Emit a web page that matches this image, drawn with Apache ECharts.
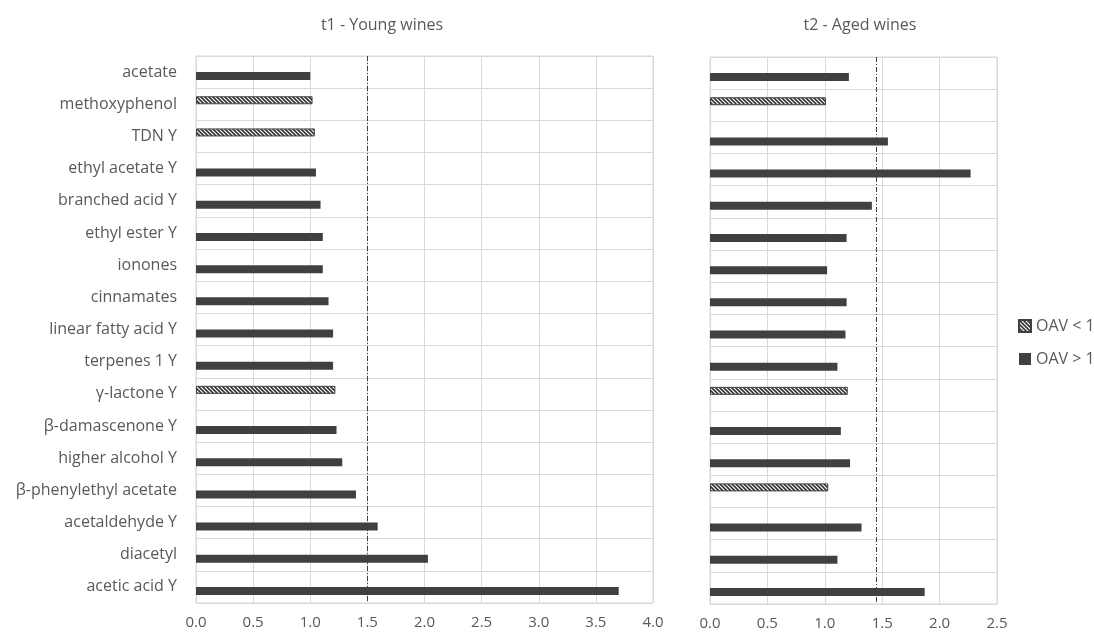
<!DOCTYPE html>
<html>
<head>
<meta charset="utf-8">
<script src="https://cdn.jsdelivr.net/npm/echarts@6/dist/echarts.min.js"></script>
<style>html,body{margin:0;padding:0;background:#fff}#c{width:1094px;height:635px}</style>
</head>
<body>
<div id="c"></div>
<script>
// ---- data ----
const categories = ['acetate','methoxyphenol','TDN Y','ethyl acetate Y','branched acid Y','ethyl ester Y','ionones','cinnamates','linear fatty acid Y','terpenes 1 Y','γ-lactone Y','β-damascenone Y','higher alcohol Y','β-phenylethyl acetate','acetaldehyde Y','diacetyl','acetic acid Y'];
const t1Values = [1.00,1.02,1.04,1.05,1.09,1.11,1.11,1.16,1.20,1.20,1.22,1.23,1.28,1.40,1.59,2.03,3.70];
const t1Low    = [0,1,1,0,0,0,0,0,0,0,1,0,0,0,0,0,0]; // 1 = OAV < 1
const t2Values = [1.21,1.01,1.55,2.27,1.41,1.19,1.02,1.19,1.18,1.11,1.20,1.14,1.22,1.03,1.32,1.11,1.87];
const t2Low    = [0,1,0,0,0,0,0,0,0,0,1,0,0,1,0,0,0];
const t1Ticks = ['0.0','0.5','1.0','1.5','2.0','2.5','3.0','3.5','4.0'];
const t2Ticks = ['0.0','0.5','1.0','1.5','2.0','2.5'];
const t1Threshold = 1.5;
const t2Threshold = 1.45;
const seriesNames = ['OAV < 1','OAV > 1'];
const titles = ['t1 - Young wines','t2 - Aged wines'];

// ---- styles ----
const TXT = '#595959', GRIDC = '#d9d9d9', DARK = '#404040';
const FONT = '"Open Sans", sans-serif';

const pc = document.createElement('canvas');
pc.width = 4; pc.height = 4;
const g = pc.getContext('2d');
g.fillStyle = '#fff'; g.fillRect(0,0,4,4);
g.strokeStyle = '#333'; g.lineWidth = 1.6;
g.beginPath();
g.moveTo(-1,-1); g.lineTo(5,5);
g.moveTo(-1,3); g.lineTo(1,5);
g.moveTo(3,-1); g.lineTo(5,1);
g.stroke();
const hatch = {image: pc, repeat: 'repeat'};

function split(values, low, wantLow) {
  return values.map((v, i) => (low[i] === 1) === wantLow ? v : null);
}

function xAxisFor(gridIndex, ticks) {
  return {
    type: 'value', gridIndex, min: 0, max: parseFloat(ticks[ticks.length-1]), interval: 0.5,
    axisLine: {show: false}, axisTick: {show: false},
    axisLabel: {color: TXT, fontSize: 15, fontFamily: FONT, margin: 12,
      formatter: v => ticks[Math.round(v / 0.5)]},
    splitLine: {show: true, lineStyle: {color: GRIDC, width: 1}}
  };
}
function yAxisFor(gridIndex, showLabels) {
  return {
    type: 'category', gridIndex, data: categories, inverse: true,
    axisLine: {show: false}, axisTick: {show: false},
    axisLabel: {show: showLabels, color: TXT, fontSize: 16, fontFamily: FONT, margin: 19},
    splitLine: {show: true, interval: 0, lineStyle: {color: GRIDC, width: 1}}
  };
}
function barSeries(name, data, idx, low, threshold) {
  const s = {
    name, type: 'bar', xAxisIndex: idx, yAxisIndex: idx, data,
    barWidth: 8, barGap: '0%',
    itemStyle: low ? {color: hatch, borderColor: DARK, borderWidth: 1} : {color: DARK},
    emphasis: {disabled: true}
  };
  if (threshold !== undefined) {
    s.markLine = {
      silent: true, symbol: 'none', label: {show: false},
      lineStyle: {color: DARK, width: 1, type: [5, 2, 1, 2]},
      data: [{xAxis: threshold}]
    };
  }
  return s;
}

const chart = echarts.init(document.getElementById('c'));
chart.setOption({
  animation: false,
  textStyle: {fontFamily: FONT},
  title: [
    {text: titles[0], left: 377, top: 12, textAlign: 'center', textStyle: {color: TXT, fontSize: 16, fontWeight: 'normal', fontFamily: FONT}},
    {text: titles[1], left: 855, top: 12, textAlign: 'center', textStyle: {color: TXT, fontSize: 16, fontWeight: 'normal', fontFamily: FONT}}
  ],
  legend: {
    orient: 'vertical', left: 1013, top: 313, itemWidth: 12, itemHeight: 12, itemGap: 17,
    icon: 'rect',
    data: seriesNames, selectedMode: false,
    textStyle: {color: TXT, fontSize: 16, fontFamily: FONT}
  },
  grid: [
    {left: 196, width: 457, top: 56, height: 547, show: true, borderColor: GRIDC, borderWidth: 1, containLabel: false},
    {left: 710, width: 287, top: 57, height: 547, show: true, borderColor: GRIDC, borderWidth: 1, containLabel: false}
  ],
  xAxis: [xAxisFor(0, t1Ticks), xAxisFor(1, t2Ticks)],
  yAxis: [yAxisFor(0, true), yAxisFor(1, false)],
  series: [
    barSeries(seriesNames[0], split(t1Values, t1Low, true), 0, true),
    barSeries(seriesNames[1], split(t1Values, t1Low, false), 0, false, t1Threshold),
    barSeries(seriesNames[0], split(t2Values, t2Low, true), 1, true),
    barSeries(seriesNames[1], split(t2Values, t2Low, false), 1, false, t2Threshold)
  ]
});
</script>
</body>
</html>
